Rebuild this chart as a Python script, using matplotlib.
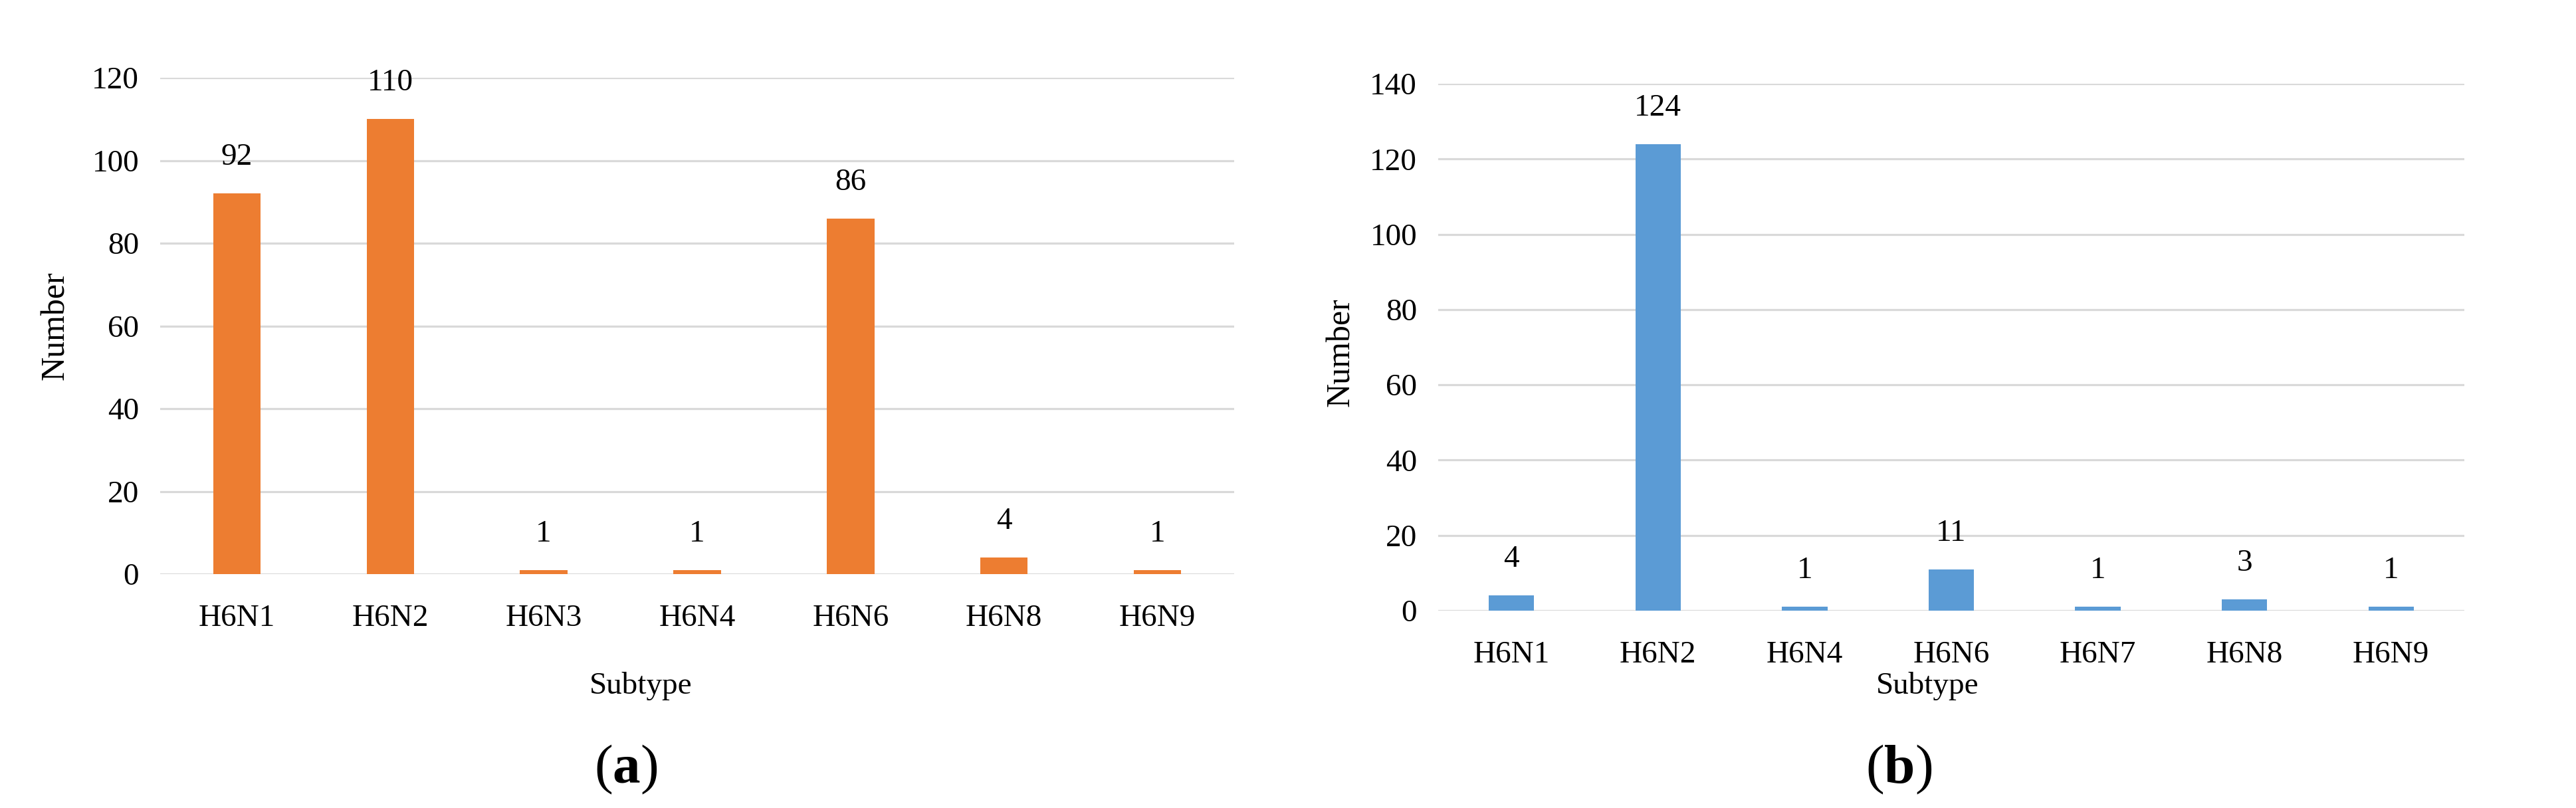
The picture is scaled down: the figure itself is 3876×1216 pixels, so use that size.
import matplotlib
matplotlib.use('Agg')
import matplotlib.pyplot as plt
import numpy as np

# data (a)
subtypes_a = ['H6N1', 'H6N2', 'H6N3', 'H6N4', 'H6N6', 'H6N8', 'H6N9']
counts_a = [92, 110, 1, 1, 86, 4, 1]
# data (b)
subtypes_b = ['H6N1', 'H6N2', 'H6N4', 'H6N6', 'H6N7', 'H6N8', 'H6N9']
counts_b = [4, 124, 1, 11, 1, 3, 1]

yticks_a = [0, 20, 40, 60, 80, 100, 120]
yticks_b = [0, 20, 40, 60, 80, 100, 120, 140]

orange = '#ED7D31'
blue = '#5B9BD5'
grid_color = '#D9D9D9'

plt.rcParams['font.family'] = ['Liberation Serif', 'DejaVu Serif']
plt.rcParams['mathtext.fontset'] = 'custom'
plt.rcParams['mathtext.rm'] = 'Liberation Serif'
plt.rcParams['mathtext.bf'] = 'Liberation Serif:bold'

W, H = 3876, 1216
fig = plt.figure(figsize=(W / 100, H / 100), dpi=100, facecolor='white')


def draw_panel(rect, cats, vals, yticks, color, ylab_xy, xlab_xy):
    ax = fig.add_axes(rect)
    x = np.arange(len(cats))
    ax.bar(x, vals, width=0.31, color=color, zorder=3)
    for xi, v in zip(x, vals):
        ax.annotate(str(v), xy=(xi, v), xytext=(0, 31), textcoords='offset points',
                    ha='center', va='baseline', fontsize=34)
    ax.set_xlim(-0.5, len(cats) - 0.5)
    ax.set_ylim(0, yticks[-1])
    ax.set_yticks(yticks)
    ax.set_xticks(x)
    ax.set_xticklabels(cats)
    ax.grid(axis='y', color=grid_color, linewidth=2.3, zorder=0)
    ax.set_axisbelow(True)
    for s in ax.spines.values():
        s.set_visible(False)
    ax.tick_params(axis='y', length=0, pad=23, labelsize=34)
    ax.tick_params(axis='x', length=0, pad=33, labelsize=34)
    ax.set_ylabel('Number', fontsize=36)
    ax.yaxis.set_label_coords(*ylab_xy)
    ax.yaxis.label.set_va('center')
    ax.set_xlabel('Subtype', fontsize=34)
    ax.xaxis.set_label_coords(*xlab_xy)
    return ax


# 左图
draw_panel([241 / W, 1 - 864 / H, 1616 / W, 747 / H], subtypes_a, counts_a, yticks_a,
           orange, (-0.0972, 0.5), (0.4474, -0.197))
# 右图
draw_panel([2164 / W, 1 - 919 / H, 1544 / W, 793 / H], subtypes_b, counts_b, yticks_b,
           blue, (-0.0946, 0.49), (0.4767, -0.116))

# 子图标号
fig.text(942 / W, 1 - 1158 / H, r'$(\mathbf{a})$', ha='center', va='center', fontsize=60)
fig.text(2857 / W, 1 - 1158 / H, r'$(\mathbf{b})$', ha='center', va='center', fontsize=60)

fig.savefig('out.png', dpi=100, facecolor='white')
